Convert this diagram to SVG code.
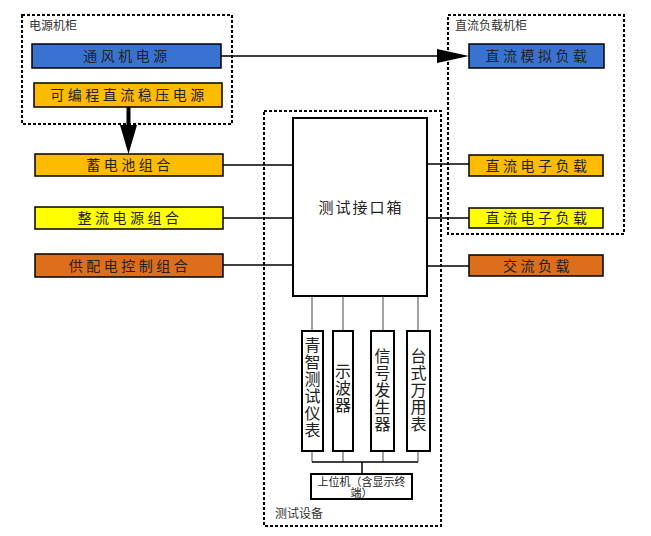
<svg xmlns="http://www.w3.org/2000/svg" width="651" height="536" viewBox="0 0 651 536">
<defs>
<style>
.t{font-family:"Liberation Sans","Noto Sans CJK SC",sans-serif;fill:#222;}
.bx{font-size:14px;letter-spacing:3.5px;text-anchor:middle;dominant-baseline:central;}
.lb{font-size:12px;fill:#333;}
.vt{font-size:16px;text-anchor:middle;dominant-baseline:central;}
.dash{fill:none;stroke:#000;stroke-width:2;stroke-dasharray:3 2;}
.node{stroke:#000;stroke-width:1.5;}
.blue{fill:#3a72d2;}
.gold{fill:#ffbb00;}
.yel{fill:#ffff00;}
.brn{fill:#dd6e1c;}
.ln{stroke:#000;stroke-width:1.5;fill:none;}
.gl{stroke:#666;stroke-width:1.2;fill:none;}
</style>
</defs>
<rect width="651" height="536" fill="#fff"/>
<g id="cab-power"><rect class="dash" x="22" y="15" width="210" height="109"/><text class="t lb" x="29" y="30">电源机柜</text></g>
<g id="cab-load"><rect class="dash" x="448" y="15" width="176" height="219"/><text class="t lb" x="455" y="30">直流负载机柜</text></g>
<g id="cab-test"><rect class="dash" x="264" y="111" width="177" height="415"/><text class="t lb" x="275" y="518">测试设备</text></g>
<g id="connectors">
<line class="ln" x1="221" y1="56" x2="440" y2="56"/>
<polygon points="437,49 469,56 437,63" fill="#000"/>
<line x1="128.5" y1="107" x2="128.5" y2="127" stroke="#000" stroke-width="4"/>
<polygon points="120,125 137,125 128.5,154" fill="#000"/>
<line class="ln" x1="223" y1="165" x2="293" y2="165"/>
<line class="ln" x1="223" y1="218" x2="293" y2="218"/>
<line class="ln" x1="223" y1="265" x2="293" y2="265"/>
<line class="ln" x1="427" y1="164" x2="469" y2="164"/>
<line class="ln" x1="427" y1="218" x2="469" y2="218"/>
<line class="ln" x1="427" y1="266" x2="469" y2="266"/>
<line class="gl" x1="312" y1="296" x2="312" y2="331"/>
<line class="gl" x1="343" y1="296" x2="343" y2="331"/>
<line class="gl" x1="383" y1="296" x2="383" y2="331"/>
<line class="gl" x1="418" y1="296" x2="418" y2="331"/>
<line class="gl" x1="312" y1="451" x2="312" y2="462"/>
<line class="gl" x1="343" y1="451" x2="343" y2="462"/>
<line class="gl" x1="383" y1="451" x2="383" y2="462"/>
<line class="gl" x1="418" y1="451" x2="418" y2="462"/>
<line class="ln" x1="312" y1="462" x2="418" y2="462" stroke-width="1.2"/>
<line class="ln" x1="362" y1="462" x2="362" y2="474" stroke-width="1.2"/>
</g>
<g id="n-fan"><rect class="node blue" x="32" y="44" width="189" height="24"/><text class="t bx" x="127" y="56">通风机电源</text></g>
<g id="n-prog"><rect class="node gold" x="34" y="83" width="188" height="24"/><text class="t bx" x="129" y="95">可编程直流稳压电源</text></g>
<g id="n-batt"><rect class="node gold" x="35" y="154" width="188" height="22"/><text class="t bx" x="130" y="165">蓄电池组合</text></g>
<g id="n-rect"><rect class="node yel" x="35" y="207" width="188" height="22"/><text class="t bx" x="130" y="218">整流电源组合</text></g>
<g id="n-dist"><rect class="node brn" x="35" y="254" width="188" height="23"/><text class="t bx" x="130" y="265.5">供配电控制组合</text></g>
<g id="n-sim"><rect class="node blue" x="469" y="44" width="135" height="24"/><text class="t bx" x="538" y="56">直流模拟负载</text></g>
<g id="n-el1"><rect class="node gold" x="469" y="155" width="134" height="21"/><text class="t bx" x="538" y="165.5">直流电子负载</text></g>
<g id="n-el2"><rect class="node yel" x="469" y="208" width="134" height="20"/><text class="t bx" x="538" y="218">直流电子负载</text></g>
<g id="n-ac"><rect class="node brn" x="469" y="255" width="134" height="21"/><text class="t bx" x="538" y="265.5">交流负载</text></g>
<g id="n-box"><rect x="293" y="118" width="134" height="178" fill="#fff" stroke="#000" stroke-width="2"/><text class="t" x="361" y="207" font-size="15" letter-spacing="2" text-anchor="middle" dominant-baseline="central">测试接口箱</text></g>
<g id="n-qz"><rect x="302" y="331" width="21" height="120" fill="#fff" stroke="#000" stroke-width="2"/>
<text class="t vt" x="312.5" y="345">青</text><text class="t vt" x="312.5" y="362">智</text><text class="t vt" x="312.5" y="379">测</text><text class="t vt" x="312.5" y="396">试</text><text class="t vt" x="312.5" y="413">仪</text><text class="t vt" x="312.5" y="430">表</text></g>
<g id="n-osc"><rect x="333" y="331" width="20" height="120" fill="#fff" stroke="#000" stroke-width="2"/>
<text class="t vt" x="343" y="371">示</text><text class="t vt" x="343" y="388">波</text><text class="t vt" x="343" y="405">器</text></g>
<g id="n-sig"><rect x="371" y="331" width="23" height="120" fill="#fff" stroke="#000" stroke-width="2"/>
<text class="t vt" x="382.5" y="356">信</text><text class="t vt" x="382.5" y="373">号</text><text class="t vt" x="382.5" y="390">发</text><text class="t vt" x="382.5" y="407">生</text><text class="t vt" x="382.5" y="424">器</text></g>
<g id="n-dmm"><rect x="407" y="331" width="23" height="120" fill="#fff" stroke="#000" stroke-width="2"/>
<text class="t vt" x="418.5" y="356">台</text><text class="t vt" x="418.5" y="373">式</text><text class="t vt" x="418.5" y="390">万</text><text class="t vt" x="418.5" y="407">用</text><text class="t vt" x="418.5" y="424">表</text></g>
<g id="n-pc"><rect x="311" y="474" width="101" height="25" fill="#fff" stroke="#000" stroke-width="2"/>
<text class="t" x="361.5" y="481.5" font-size="11" text-anchor="middle" dominant-baseline="central">上位机（含显示终</text>
<text class="t" x="361.5" y="493" font-size="11" text-anchor="middle" dominant-baseline="central">端）</text></g>
</svg>
